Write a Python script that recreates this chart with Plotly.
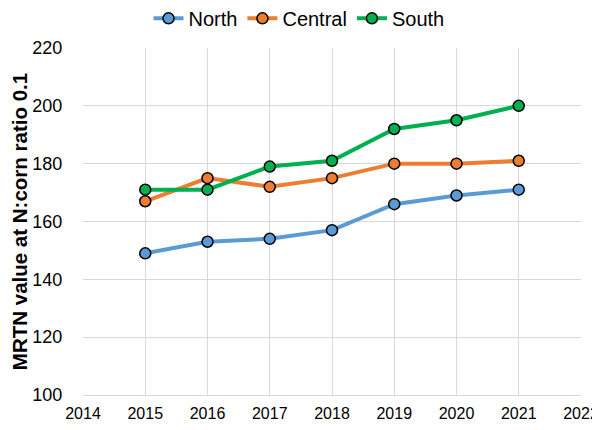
import plotly.graph_objects as go

years = [2015, 2016, 2017, 2018, 2019, 2020, 2021]
north = [149, 153, 154, 157, 166, 169, 171]
central = [167, 175, 172, 175, 180, 180, 181]
south = [171, 171, 179, 181, 192, 195, 200]

series = [("North", north, "#5B9BD5"), ("Central", central, "#ED7D31"), ("South", south, "#00B050")]

fig = go.Figure()
for name, vals, col in series:
    fig.add_trace(go.Scatter(
        x=years, y=vals, name=name, mode="lines+markers",
        line=dict(color=col, width=4),
        marker=dict(size=11, color=col, line=dict(color="black", width=1.5)),
    ))

fig.update_layout(
    width=592, height=414,
    margin=dict(l=75, r=19, t=40, b=27, autoexpand=False),
    plot_bgcolor="white", paper_bgcolor="white",
    font=dict(family="Liberation Sans, Arial, sans-serif", size=16, color="black"),
    legend=dict(orientation="h", xref="container", yref="container",
                x=0.4916, xanchor="center", y=0.975, yanchor="middle",
                font=dict(size=20), tracegroupgap=0, itemwidth=30),
    showlegend=True,
)
fig.update_xaxes(range=[2014, 2022], dtick=1, tick0=2014, showgrid=True, gridcolor="#d9d9d9",
                 gridwidth=1, zeroline=False, showline=True, linecolor="#d9d9d9",
                 ticks="outside", ticklen=4, tickcolor="rgba(0,0,0,0)",
                 tickfont=dict(size=16))
fig.update_yaxes(range=[100, 220], dtick=20, showgrid=True, gridcolor="#d9d9d9",
                 gridwidth=1, zeroline=False, showline=False,
                 ticks="outside", ticklen=16, tickcolor="rgba(0,0,0,0)",
                 tickfont=dict(size=18),
                 title=dict(text="<b>MRTN value at N:corn ratio 0.1</b>", font=dict(size=20.5), standoff=4))

fig.write_html("out.html")
